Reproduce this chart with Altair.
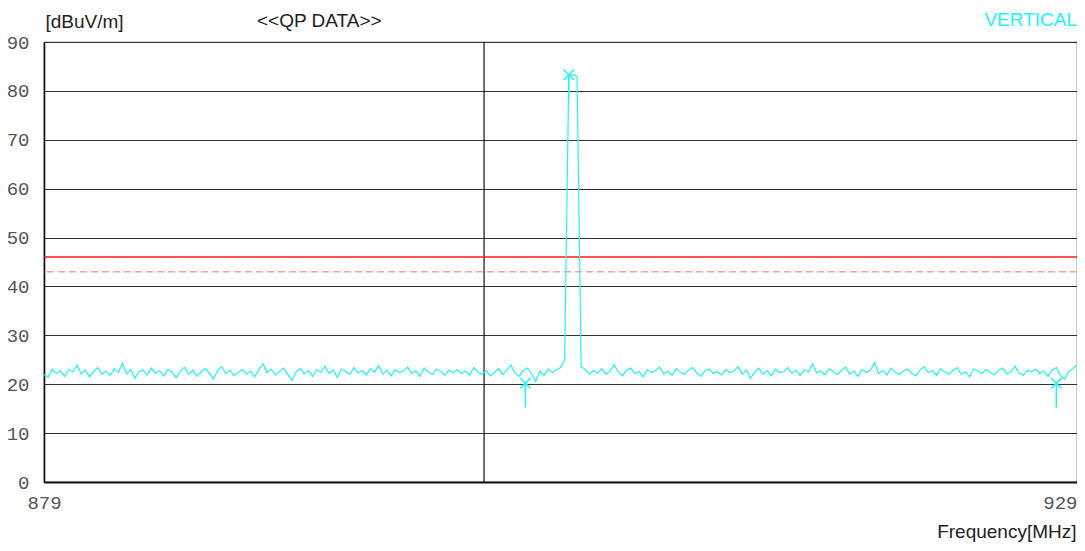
import altair as alt
import pandas as pd
import numpy as np

# ---- data ----
f_start, f_stop, f_step = 879.0, 929.0, 0.2
level = [
    22.0, 21.4, 23.1, 22.2, 22.8, 21.6, 23.0, 22.5, 23.9, 22.1,
    22.9, 21.5, 22.6, 23.4, 22.0, 22.7, 21.8, 23.2, 22.4, 24.3,
    22.1, 23.0, 21.2, 22.6, 22.9, 21.9, 23.3, 22.2, 22.8, 21.7,
    23.1, 22.4, 21.3, 22.7, 23.5, 22.0, 22.9, 21.6, 22.5, 23.2,
    22.3, 21.1, 22.8, 23.6, 22.2, 22.9, 21.8, 22.4, 23.0, 22.1,
    22.7, 21.5, 22.9, 24.2, 22.4, 23.1, 21.9, 22.6, 23.3, 22.0,
    20.8, 22.5, 23.2, 22.1, 22.8, 21.6, 23.0, 22.4, 23.7, 22.2,
    22.9, 21.4, 23.1, 22.6, 22.0, 23.4, 22.3, 22.8, 21.9, 23.2,
    22.5, 23.8, 22.1, 22.9, 21.7, 23.0, 22.4, 22.7, 23.5, 22.2,
    22.8, 21.6, 23.3, 22.5, 22.0, 23.1, 22.6, 21.8, 22.9, 22.3,
    23.0, 22.2, 22.7, 21.9, 23.4, 22.5, 22.1, 22.8, 21.7, 22.4,
    23.2, 22.0, 22.9, 23.9, 22.3, 21.6, 22.8, 23.3, 22.1, 20.6,
    22.7, 21.8, 23.1, 22.4, 22.9, 23.4, 25.0, 83.0, 83.3, 83.0,
    23.6, 23.0, 22.1, 22.8, 22.3, 23.2, 22.0, 22.7, 24.0, 22.5,
    21.7, 22.9, 23.3, 22.2, 22.6, 21.5, 23.0, 22.4, 22.8, 23.5,
    22.1, 22.7, 21.8, 23.2, 22.5, 22.0, 22.9, 23.4, 22.3, 21.6,
    22.8, 23.1, 22.2, 22.6, 21.9, 23.0, 22.4, 22.7, 23.6, 22.1,
    22.9, 21.2, 22.5, 23.3, 22.0, 22.8, 21.7, 23.1, 22.4, 22.6,
    23.4, 22.2, 22.9, 21.8, 23.0, 22.5, 24.1, 22.3, 22.7, 21.9,
    23.2, 22.6, 22.0, 22.8, 23.5, 22.1, 22.7, 21.6, 23.0, 22.4,
    22.9, 24.4, 22.2, 22.8, 21.9, 23.3, 22.5, 22.0, 22.7, 23.1,
    22.3, 21.7, 22.9, 23.6, 22.4, 22.8, 21.8, 23.2, 22.5, 22.1,
    22.8, 23.4, 22.0, 22.6, 21.5, 23.1, 22.7, 22.2, 23.0, 22.4,
    21.9, 22.8, 23.3, 22.1, 22.6, 23.7, 22.3, 21.8, 22.9, 22.5,
    23.1, 22.2, 22.7, 21.6, 22.9, 23.4, 21.8, 21.0, 22.6, 23.2,
    24.0,
]
freq = np.round(f_start + f_step * np.arange(len(level)), 1)

marker_freq = [902.3, 904.4, 928.0]
marker_level = [20.2, 83.3, 20.2]
marker_tail = [15.2, 78.3, 15.2]

limit_qp = 46.0
limit_margin = 43.0
center_grid = 900.3

y_ticks = [0, 10, 20, 30, 40, 50, 60, 70, 80, 90]
x_ticks = [879, 929]

CYAN = "#22f5f5"
MONO = "Liberation Mono"
SANS = "Liberation Sans"

W, H = 1033, 440

trace_df = pd.DataFrame({"f": freq, "v": level})
mk_df = pd.DataFrame({"f": marker_freq, "v": marker_level, "v2": marker_tail})

xscale = alt.Scale(domain=[f_start, f_stop], nice=False, zero=False)
yscale = alt.Scale(domain=[0, 90], nice=False)

x_axis = alt.Axis(
    values=x_ticks, grid=False, ticks=False, domain=True, domainColor="#111",
    domainWidth=2, labelFont=MONO, labelFontSize=19, labelColor="#555",
    labelPadding=11, labelFlush=False, labelOverlap=False, labelBound=False,
    labelAlign={"condition": {"test": "datum.value == 929", "value": "right"}, "value": "center"},
    title="Frequency[MHz]", titleFont=SANS, titleFontSize=19, titleFontWeight="normal",
    titleColor="#222", titleAnchor="end", titleX=W - 1, titleY=55, titleAlign="right",
    titleBaseline="alphabetic",
)
y_axis = alt.Axis(
    values=y_ticks, grid=True, gridColor="#333", gridWidth=1, ticks=False,
    domain=True, domainColor="#111", domainWidth=1.6,
    labelFont=MONO, labelFontSize=19, labelColor="#555", labelPadding=15,
    labelBaseline="middle",
    title="[dBuV/m]", titleFont=SANS, titleFontSize=19, titleFontWeight="normal",
    titleColor="#222", titleAngle=0, titleX=1, titleY=-15, titleAlign="left",
    titleBaseline="alphabetic",
)

base = alt.Chart(trace_df)

trace = base.mark_line(color=CYAN, strokeWidth=1.2, clip=True).encode(
    x=alt.X("f:Q", scale=xscale, axis=x_axis),
    y=alt.Y("v:Q", scale=yscale, axis=y_axis),
)

vgrid = alt.Chart(pd.DataFrame({"f": [center_grid]})).mark_rule(
    color="#111", strokeWidth=1.2
).encode(x=alt.X("f:Q", scale=xscale))

lim = alt.Chart(pd.DataFrame({"v": [limit_qp]})).mark_rule(
    color="#ff1a1a", strokeWidth=1.5
).encode(y=alt.Y("v:Q", scale=yscale))

lim2 = alt.Chart(pd.DataFrame({"v": [limit_margin]})).mark_rule(
    color="#ff9f9f", strokeWidth=1.5, strokeDash=[7, 4]
).encode(y=alt.Y("v:Q", scale=yscale))

tails = alt.Chart(mk_df).mark_rule(color=CYAN, strokeWidth=1.5).encode(
    x=alt.X("f:Q", scale=xscale), y=alt.Y("v:Q", scale=yscale), y2="v2:Q"
)

marks = alt.Chart(mk_df).mark_point(
    shape="M-1,-1L1,1M1,-1L-1,1", filled=False, color=CYAN, size=110, strokeWidth=1.6,
    opacity=1,
).encode(x=alt.X("f:Q", scale=xscale), y=alt.Y("v:Q", scale=yscale))

qp = alt.Chart(pd.DataFrame({"t": ["<<QP DATA>>"]})).mark_text(
    font=SANS, fontSize=19, color="#222", align="left", baseline="alphabetic"
).encode(x=alt.value(213), y=alt.value(-15), text="t:N")

vert = alt.Chart(pd.DataFrame({"t": ["VERTICAL"]})).mark_text(
    font=SANS, fontSize=19, color=CYAN, align="right", baseline="alphabetic"
).encode(x=alt.value(W), y=alt.value(-16), text="t:N")

chart = alt.layer(vgrid, lim, lim2, trace, tails, marks, qp, vert).properties(
    width=W, height=H,
    autosize=alt.AutoSizeParams(type="none"),
    padding={"left": 36, "top": 34, "right": 0, "bottom": 61},
    background="white",
).configure_view(stroke="#555", strokeWidth=1.2)

chart.save("out.html", embed_options={"renderer": "svg", "actions": False})
